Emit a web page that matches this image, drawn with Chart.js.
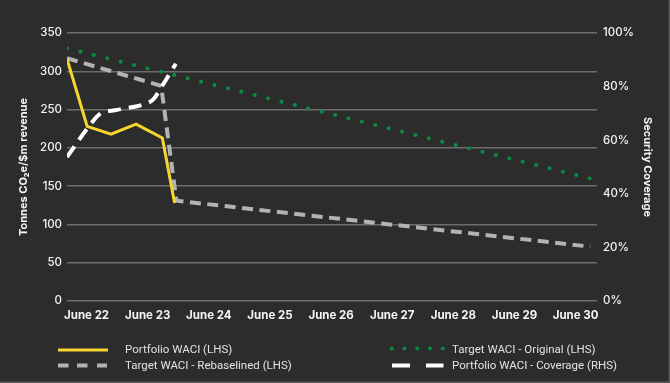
<!DOCTYPE html>
<html>
<head>
<meta charset="utf-8">
<script src="https://cdn.jsdelivr.net/npm/chart.js@4/dist/chart.umd.min.js"></script>
<style>
  html, body { margin: 0; padding: 0; background: #2c2c2c; }
  #wrap { position: relative; width: 670px; height: 383px; }
  canvas { display: block; }
</style>
</head>
<body>
<div id="wrap"><canvas id="c" width="670" height="383"></canvas></div>
<script>
// ---- Data (x in years after June 2022; tick labels at whole years) ----
const xTickLabels = ['June 22','June 23','June 24','June 25','June 26','June 27','June 28','June 29','June 30'];

const portfolioX    = [-0.32, 0.01, 0.40, 0.81, 1.24, 1.44];
const portfolioWaci = [316, 228, 218, 231, 213, 128];

const rebaselinedX    = [-0.32, 1.22, 1.47, 8.24];
const targetRebased   = [317, 281, 131, 71];

const originalX       = [-0.32, 8.24];
const targetOriginal  = [330, 160];

const coverageX       = [-0.32, 0.03, 0.22, 0.50, 0.96, 1.09, 1.23, 1.46];
const coverage        = [0.537, 0.649, 0.698, 0.713, 0.736, 0.752, 0.80, 0.885];

const leftTicks  = [0, 50, 100, 150, 200, 250, 300, 350];
const rightTicks = [0, 0.2, 0.4, 0.6, 0.8, 1.0];

const seriesLabels = [
  'Portfolio WACI (LHS)',
  'Portfolio WACI - Coverage (RHS)',
  'Target WACI - Rebaselined (LHS)',
  'Target WACI - Original (LHS)'
];

const zip = (xs, ys) => xs.map((x, i) => ({ x, y: ys[i] }));

const FONT = 'Inter, "Open Sans", sans-serif';
const LEGEND_FONT = 'Roboto, "Liberation Sans", sans-serif';
const YELLOW = '#f6d62e';
const GREY = '#b3b3b3';
const GREEN = '#0a8a42';
const WHITE = '#ffffff';

const legendPlugin = {
  id: 'customLegend',
  afterDraw(chart) {
    const ctx = chart.ctx;
    ctx.save();
    // frame on right & bottom
    ctx.strokeStyle = '#5a5a5a';
    ctx.lineWidth = 1.5;
    ctx.beginPath();
    ctx.moveTo(669.25, 0); ctx.lineTo(669.25, 382.25); ctx.lineTo(0, 382.25);
    ctx.stroke();

    ctx.lineCap = 'butt';
    ctx.setLineDash([]);
    // Portfolio WACI (yellow solid)
    ctx.strokeStyle = YELLOW; ctx.lineWidth = 3;
    ctx.beginPath(); ctx.moveTo(58, 350); ctx.lineTo(108, 350); ctx.stroke();
    // Rebaselined (grey dashes)
    ctx.strokeStyle = GREY; ctx.lineWidth = 4;
    [[58,68.5],[77,87.5],[97,107]].forEach(([a,b]) => { ctx.beginPath(); ctx.moveTo(a,365.5); ctx.lineTo(b,365.5); ctx.stroke(); });
    // Original (green dots)
    ctx.fillStyle = GREEN;
    [391.7, 404.5, 417.3, 430, 442.7].forEach(x => { ctx.beginPath(); ctx.arc(x, 348.5, 2, 0, Math.PI*2); ctx.fill(); });
    // Coverage (white dashes)
    ctx.strokeStyle = WHITE; ctx.lineWidth = 4;
    [[392,410],[426,443.5]].forEach(([a,b]) => { ctx.beginPath(); ctx.moveTo(a,365.5); ctx.lineTo(b,365.5); ctx.stroke(); });

    ctx.fillStyle = '#e2e2e2';
    ctx.font = '11.5px ' + LEGEND_FONT;
    ctx.textBaseline = 'middle';
    ctx.textAlign = 'left';
    ctx.fillText(seriesLabels[0], 125, 350.5);
    ctx.fillText(seriesLabels[2], 125, 366.5);
    ctx.fillText(seriesLabels[3], 452, 350.5);
    ctx.fillText(seriesLabels[1], 452, 366.5);
    ctx.restore();
  }
};

const bgPlugin = {
  id: 'bg',
  beforeDraw(chart) {
    const ctx = chart.ctx;
    ctx.save(); ctx.fillStyle = '#2c2c2c'; ctx.fillRect(0, 0, chart.width, chart.height); ctx.restore();
  }
};

new Chart(document.getElementById('c'), {
  type: 'line',
  data: {
    datasets: [
      { label: seriesLabels[0], data: zip(portfolioX, portfolioWaci), yAxisID: 'y',
        borderColor: YELLOW, borderWidth: 3, pointRadius: 0, tension: 0, borderJoinStyle: 'miter' },
      { label: seriesLabels[1], data: zip(coverageX, coverage), yAxisID: 'y1',
        borderColor: WHITE, borderWidth: 4, pointRadius: 0, borderDash: [13, 8], cubicInterpolationMode: 'monotone' },
      { label: seriesLabels[2], data: zip(rebaselinedX, targetRebased), yAxisID: 'y',
        borderColor: GREY, borderWidth: 4, pointRadius: 0, borderDash: [11, 6.5], tension: 0 },
      { label: seriesLabels[3], data: zip(originalX, targetOriginal), yAxisID: 'y',
        borderColor: GREEN, borderWidth: 4, pointRadius: 0, borderDash: [0.01, 13.8], borderCapStyle: 'round', tension: 0 }
    ]
  },
  options: {
    responsive: false,
    animation: false,
    layout: { padding: { top: 33, left: 0, right: 0, bottom: 0 } },
    plugins: { legend: { display: false }, tooltip: { enabled: false } },
    scales: {
      x: {
        type: 'linear', min: -0.32, max: 8.35,
        afterBuildTicks: s => { s.ticks = xTickLabels.map((_, i) => ({ value: i })); },
        afterFit: s => { s.height = 82; },
        grid: { display: false, drawTicks: false },
        border: { display: false },
        ticks: { color: '#f4f4f4', padding: 8, maxRotation: 0, autoSkip: false,
                 font: { family: FONT, size: 11.5, weight: 'bold' },
                 callback: v => xTickLabels[v] }
      },
      y: {
        position: 'left', min: 0, max: 350,
        afterBuildTicks: s => { s.ticks = leftTicks.map(v => ({ value: v })); },
        afterFit: s => { s.width = 67; },
        grid: { color: '#6c6c6c', lineWidth: 1.5, drawTicks: false },
        border: { display: false },
        ticks: { color: '#f4f4f4', padding: 5, font: { family: FONT, size: 11.5, weight: '500' } },
        title: { display: true, text: 'Tonnes CO₂e/$m revenue', color: '#f4f4f4',
                 font: { family: FONT, size: 11, weight: 'bold' }, padding: { top: 17, bottom: 0 } }
      },
      y1: {
        position: 'right', min: 0, max: 1,
        afterBuildTicks: s => { s.ticks = rightTicks.map(v => ({ value: v })); },
        afterFit: s => { s.width = 73; },
        grid: { display: false, drawTicks: false },
        border: { display: false },
        ticks: { color: '#f4f4f4', padding: 6, font: { family: FONT, size: 11.5, weight: '500' },
                 callback: v => Math.round(v * 100) + '%' },
        title: { display: true, text: 'Security Coverage', color: '#f4f4f4',
                 font: { family: FONT, size: 11, weight: 'bold' }, padding: { top: 16, bottom: 0 } }
      }
    }
  },
  plugins: [bgPlugin, legendPlugin]
});
</script>
</body>
</html>
